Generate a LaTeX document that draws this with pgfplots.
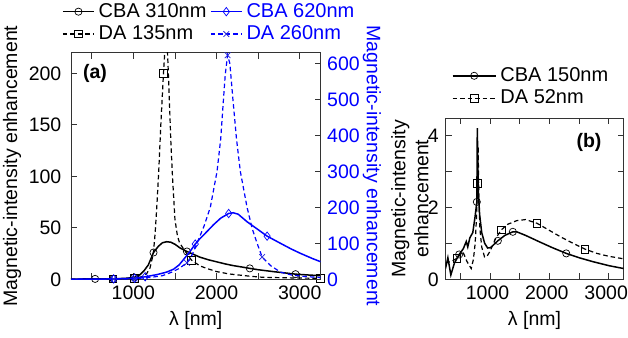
\documentclass[border=0pt]{standalone}
\usepackage{fontspec}
\setmainfont{Liberation Sans}
\usepackage{pgfplots}
\pgfplotsset{compat=1.18}
\pgfplotsset{
  common/.style={
    scale only axis,
    xmin=250, xmax=3250,
    xtick={1000,2000,3000}, minor xtick={500,1500,2500},
    tick align=inside, major tick length=6pt, minor tick length=6pt,
    axis line style={black!80, line width=0.8pt},
    tick style={black!80, line width=0.8pt},
    /pgf/number format/assume math mode=true,
    /pgf/number format/1000 sep={},
    scaled ticks=false,
    legend cell align=left,
    legend style={draw=none, fill=none, inner sep=0pt, row sep=2.5pt,
      nodes={inner sep=1.5pt}, font=\fontsize{20}{23}\selectfont,
      /tikz/every odd column/.append style={column sep=2.5pt},
      /tikz/every even column/.append style={column sep=2pt}},
  },
  cbaA/.style={black, line width=1.5pt, mark=o, mark size=3.6pt, mark options={solid, fill=white, line width=0.7pt}},
  daA/.style={black, line width=1.2pt, dash pattern=on 4.5pt off 3pt, mark=square, mark size=3.8pt, mark options={solid, fill=white, line width=0.7pt}},
  cbaB/.style={blue, line width=1.5pt, mark=diamond, mark size=4.2pt, mark options={solid, fill=white, line width=0.7pt}},
  daB/.style={blue, line width=1.2pt, dash pattern=on 4.5pt off 3pt, mark=x, mark size=4pt, mark options={solid, blue!70!gray, line width=0.8pt}},
}
\begin{document}
\fontsize{19.5}{23}\selectfont
\begin{tikzpicture}
\useasboundingbox (0,0) rectangle (628pt,337pt);
% ---------- panel (a), left axis ----------
\begin{axis}[common,
  at={(71pt,57.7pt)}, anchor=south west,
  width=249.5pt, height=226.6pt,
  ymin=0, ymax=220,
  ytick={0,50,100,150,200}, ytick pos=left, xtick pos=both,
  yticklabel style={xshift=-3pt},
  xlabel={λ [nm]},
  xlabel style={at={(axis description cs:0.5,-0.18)}, anchor=center},
  ylabel={Magnetic-intensity enhancement},
  ylabel style={at={(axis description cs:-0.2365,0.5)}, anchor=center},
]
\addplot[cbaA, mark indices={3,5,7,11,18,26,31}] coordinates {
(250,0.2) (400,0.3) (540,0.4) (650,0.45) (760,0.5) (900,0.9) (1010,1.8)
(1080,4.5) (1130,8.5) (1180,14) (1242,26) (1300,32) (1350,35.5) (1400,36.5)
(1450,36) (1500,34) (1560,30.5) (1644,27) (1700,25) (1800,21.5) (1900,19)
(2000,17) (2100,15) (2200,13.3) (2300,12) (2400,10.6) (2500,9.3) (2600,8.3)
(2700,7.3) (2800,6.4) (2950,5) (3100,4.2) (3250,3.5)};
\addplot[daA, mark indices={3,5,14,23,33}] coordinates {
(250,0) (500,0.1) (752,0.3) (900,0.6) (1015,1) (1100,2.5) (1160,5.5)
(1200,11) (1240,25) (1262,45) (1285,75) (1305,105) (1330,150) (1362,200)
(1380,224) (1395,232) (1410,222) (1430,180) (1450,135) (1470,100) (1500,58)
(1530,42) (1555,35.5) (1600,30) (1650,24) (1700,18.5) (1800,13) (1885,10.5)
(2000,7.5) (2150,5.2) (2286,4) (2400,3) (2548,2) (2800,1.5) (3000,1.2) (3250,1)};
\node[font=\bfseries] at (rel axis cs:0.096,0.91) {(a)};
\end{axis}
% ---------- panel (a), right axis ----------
\begin{axis}[common,
  at={(71pt,57.7pt)}, anchor=south west,
  width=249.5pt, height=226.6pt,
  ymin=0, ymax=630,
  hide x axis, axis y line*=right,
  ytick={0,100,...,600}, ytick pos=right,
  yticklabel style={text=blue},
  ylabel={Magnetic-intensity enhancement},
  ylabel style={text=blue, rotate=180, at={(axis description cs:1.206,0.5)}, anchor=center},
  legend columns=2,
  legend image code/.code={\draw[mark indices={2}] plot coordinates {(0pt,0pt) (15.5pt,0pt) (31pt,0pt)};},
  legend style={at={(axis description cs:-0.036,1.1317)}, anchor=west},
]
\addlegendimage{cbaA}
\addlegendentry{CBA 310nm}
\addplot[cbaB, mark indices={3,5,6,13,18,23}] coordinates {
(250,0) (500,0.5) (763,1) (900,2) (1015,3) (1142,7) (1283,13) (1400,20)
(1483,28) (1550,40) (1603,55) (1680,77) (1744,98) (1800,113) (1865,128)
(1965,152) (2050,170) (2146,183) (2200,185) (2260,181) (2367,160) (2500,138)
(2608,120) (2769,100) (2900,84) (3010,72) (3150,58) (3250,49)};
\addlegendentry[text=blue]{CBA 620nm}
\addlegendimage{daA}
\addlegendentry{DA 135nm}
\addplot[daB, mark indices={3,5,10,19,27}] coordinates {
(250,0) (500,0.2) (763,0.5) (900,1) (1015,2) (1200,5) (1350,10) (1463,20)
(1550,30) (1644,46) (1700,65) (1765,100) (1850,148) (1925,200) (2006,300)
(2050,390) (2077,480) (2105,570) (2133,623) (2160,600) (2197,500) (2240,390)
(2286,300) (2367,200) (2430,140) (2488,100) (2548,62) (2650,38) (2769,20)
(2900,12) (3050,8) (3250,5)};
\addlegendentry[text=blue]{DA 260nm}
\end{axis}
% ---------- panel (b) ----------
\begin{axis}[common,
  at={(445.5pt,57.7pt)}, anchor=south west,
  width=178pt, height=161.2pt,
  ymin=0, ymax=4.48,
  ytick={0,2,4}, minor ytick={1,3},
  xticklabel style={xshift=-2.5pt},
  xlabel={λ [nm]},
  xlabel style={at={(axis description cs:0.5,-0.2525)}, anchor=center},
  ylabel={Magnetic-intensity\\enhancement},
  ylabel style={align=center, at={(axis description cs:-0.2,0.5)}, anchor=center},
  legend image code/.code={\draw[mark indices={2}] plot coordinates {(0pt,0pt) (21.5pt,0pt) (43pt,0pt)};},
  legend style={at={(axis description cs:0.035,1.193)}, anchor=west,
    /tikz/every even column/.append style={column sep=9pt}},
]
\addplot[cbaA, mark indices={5,12,21,23,28}] coordinates {
(250,0.3) (290,0.6) (340,0.12) (400,0.45) (480,0.69) (550,0.85) (600,1.05)
(625,0.9) (660,1.15) (710,1.3) (745,1.7) (778,2.15) (786,4.2) (795,3.2)
(805,2.4) (825,1.8) (860,1.3) (910,1.0) (960,0.87) (1010,0.88) (1132,1.07)
(1250,1.22) (1385,1.32) (1450,1.32) (1600,1.22) (1835,1.04) (2050,0.88)
(2285,0.72) (2500,0.6) (2734,0.49) (3000,0.38) (3250,0.3)};
\addlegendentry{CBA 150nm}
\addplot[daA, mark indices={3,10,19,23,27}] coordinates {
(250,0.45) (350,0.5) (441,0.58) (542,0.77) (610,0.5) (683,0.3) (720,0.55)
(750,1.0) (772,1.7) (790,2.67) (800,3.7) (812,2.3) (830,1.4) (860,0.9)
(908,0.62) (950,0.64) (1000,0.78) (1100,1.15) (1189,1.37) (1300,1.53)
(1450,1.63) (1600,1.66) (1789,1.56) (2000,1.36) (2200,1.17) (2400,1.0)
(2599,0.84) (2800,0.72) (3000,0.64) (3250,0.57)};
\addlegendentry{DA 52nm}
\node[font=\bfseries] at (rel axis cs:0.806,0.846) {(b)};
\end{axis}
\end{tikzpicture}
\end{document}
